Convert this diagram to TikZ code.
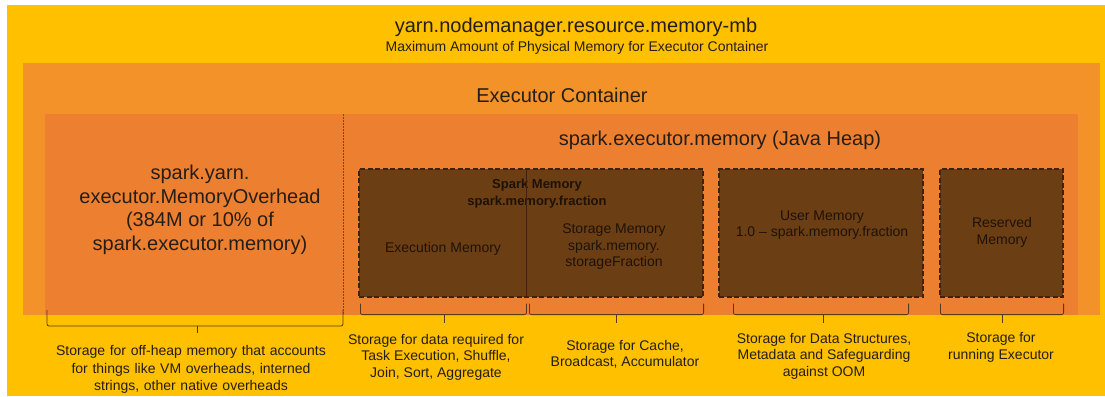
\documentclass[tikz,border=0pt]{standalone}
\usepackage{fontspec}
\setmainfont{Liberation Sans}
\usepackage{tikz}
\usetikzlibrary{calc,positioning}
\definecolor{yarnyellow}{RGB}{255,192,0}
\definecolor{contorange}{RGB}{242,146,40}
\definecolor{heaporange}{RGB}{237,128,48}
\definecolor{boxbrown}{RGB}{108,62,20}
\definecolor{edgebrown}{RGB}{62,34,10}
\definecolor{inkdark}{RGB}{38,30,22}
\definecolor{inkbox}{RGB}{30,18,6}
\definecolor{bracebrown}{RGB}{90,58,20}
\newcommand{\bigfnt}   {\fontsize{20}{23.5}\selectfont}
\newcommand{\smallfnt} {\fontsize{14}{16.5}\selectfont}

\begin{document}
\begin{tikzpicture}[x=1pt,y=-1pt,
   membox/.style={fill=boxbrown,draw=edgebrown,line width=1.2pt,
                  dash pattern=on 5pt off 2.5pt,inner sep=0pt,
                  minimum height=128pt},
   bigtxt/.style={text=inkdark,font=\bigfnt,align=center},
   boxtxt/.style={text=inkbox,font=\smallfnt,align=center},
   capt/.style={text=inkdark,font=\smallfnt,align=center},
   brc/.style={draw=bracebrown,line width=0.8pt,rounded corners=2pt}]
     \useasboundingbox (0,0) rectangle (1105,396);
     \fill[white] (0,0) rectangle (1105,396);
     \fill[yarnyellow] (7,5) rectangle (1105,396);
     \fill[contorange] (23,63) rectangle (1100,315);
     \fill[heaporange] (45,114) rectangle (1078,315);
     \draw[edgebrown!80,line width=0.6pt,dash pattern=on 1.5pt off 1.5pt]
      (343,114) -- (343,315);
     \node[bigtxt] (yarn) at (576,27) {yarn.nodemanager.resource.memory-mb};
     \node[capt]   (maxmem) at (577,48)
      {Maximum Amount of Physical Memory for Executor Container};
     \node[bigtxt] (container) at (562,95) {Executor Container};
     \node[bigtxt] (heap) at (720,140) {spark.executor.memory (Java Heap)};
     \node[bigtxt] (overhead) at (200,210)
      {spark.yarn.\\executor.MemoryOverhead\\(384M or 10\% of\\spark.executor.memory)};
     \node[membox,minimum width=344pt] (spark) at (531,233) {};
     \node[membox,minimum width=204pt] (user)  at (821,233) {};
     \node[membox,minimum width=123pt] (rsv)   at (1001.5,233) {};
     \coordinate (split) at ($(spark.south west)+(168,0)$);
     \node[boxtxt,font=\fontsize{13}{17}\selectfont\bfseries] (sparkmem) at (537,193.5)
      {Spark Memory\\spark.memory.fraction};
     \draw[edgebrown,line width=0.8pt] (split) -- ($(spark.north west)+(168,0)$);
     \node[boxtxt] (execmem) at (443,249) {Execution Memory};
     \node[boxtxt] (stormem) at (614,247)
      {Storage Memory\\spark.memory.\\storageFraction};
     \node[boxtxt] (usermem) at (822,225) {User Memory\\1.0 -- spark.memory.fraction};
     \node[boxtxt] (rsvmem)  at (1002,232.5) {Reserved\\Memory};
     \draw[brc] (47,310) -- (47,326) -| (343,310);
     \draw[brc] (197,326) -- (197,333);
     \draw[brc] ($(spark.south west)+(2,6)$) -- ++(0,11) -| ($(split)+(0,6)$);
     \draw[brc] ($(spark.south west)+(86,17)$) -- ++(0,8);
     \draw[brc] ($(split)+(3,6)$) -- ++(0,11) -| ($(spark.south east)+(0,6)$);
     \draw[brc] ($(split)+(90,17)$) -- ++(0,8);
     \draw[brc] ($(user.south west)+(15,6)$) -- ++(0,11) -| ($(user.south east)+(-15,6)$);
     \draw[brc] ($(user.south)+(2,17)$) -- ++(0,8);
     \draw[brc] ($(rsv.south west)+(1,6)$) -- ++(0,11) -| ($(rsv.south east)+(0,6)$);
     \draw[brc] ($(rsv.south)+(1,17)$) -- ++(0,8);
     \node[capt,text width=290pt,font=\fontsize{14}{17.5}\selectfont] (offheap) at (191,369.5)
      {Storage for off-heap memory that accounts\\for things like VM overheads, interned\\strings, other native overheads};
     \node[capt] (execcapt) at (436,357)
      {Storage for data required for\\Task Execution, Shuffle,\\Join, Sort, Aggregate};
     \node[capt] (storcapt) at (625,354.5) {Storage for Cache,\\Broadcast, Accumulator};
     \node[capt] (usercapt) at (824,356)
      {Storage for Data Structures,\\Metadata and Safeguarding\\against OOM};
     \node[capt] (rsvcapt)  at (1001,347.5) {Storage for\\running Executor};
    \end{tikzpicture}
\end{document}
